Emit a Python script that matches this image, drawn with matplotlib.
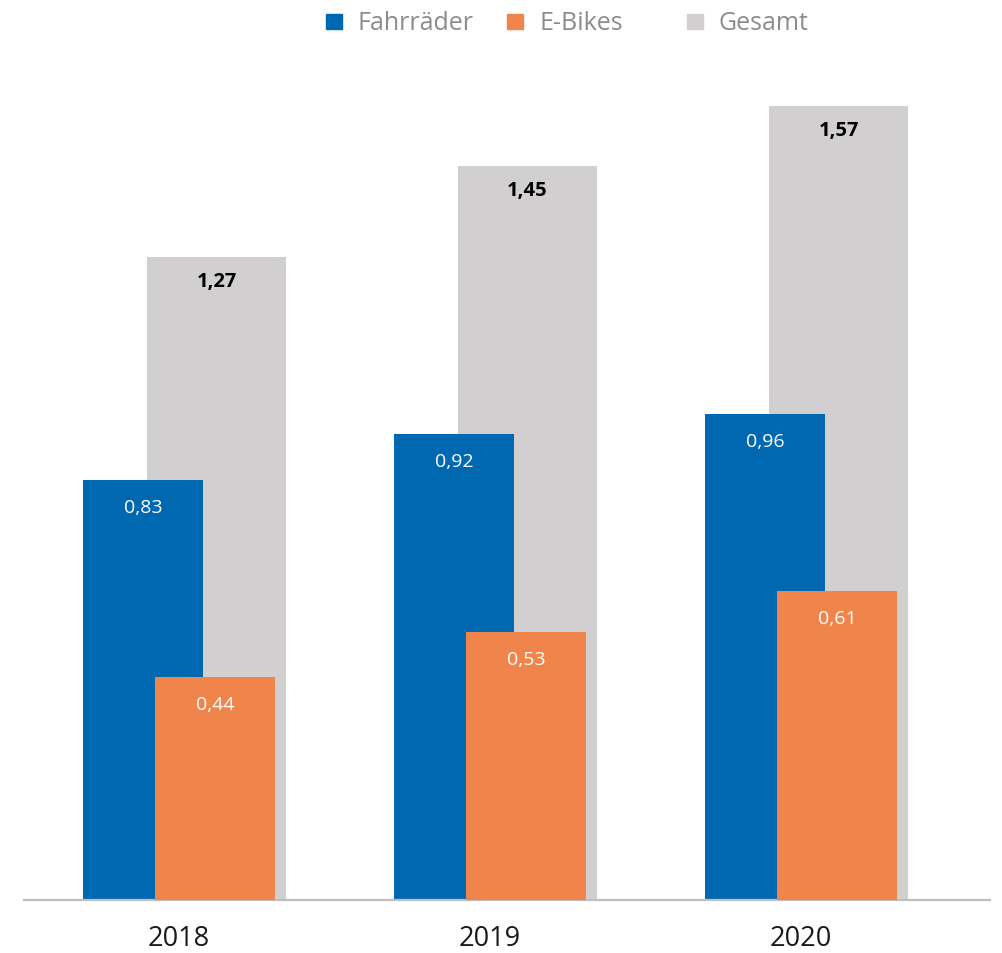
import matplotlib
matplotlib.use("Agg")
import matplotlib.pyplot as plt
from matplotlib.patches import Rectangle
import numpy as np

plt.rcParams['font.family'] = ['Open Sans', 'DejaVu Sans']

years = ["2018", "2019", "2020"]
fahrraeder = [0.83, 0.92, 0.96]
ebikes = [0.44, 0.53, 0.61]
gesamt = [1.27, 1.45, 1.57]
series_names = ["Fahrräder", "E-Bikes", "Gesamt"]

c_blue = "#0067b1"
c_orange = "#f0854b"
c_gray = "#d1cfd0"

W, H = 1002, 954
fig = plt.figure(figsize=(W / 100, H / 100), dpi=100)
ax = fig.add_axes([24 / W, (H - 901) / H, (990 - 24) / W, (901 - 40.8) / H])

x = np.arange(len(years))
unit = 311.0
off = 36 / unit
w_small = 120 / unit
w_gray = 139 / unit

ax.bar(x + off + 1.5 / unit, gesamt, width=w_gray, color=c_gray, zorder=1)
ax.bar(x - off, fahrraeder, width=w_small, color=c_blue, zorder=2)
ax.bar(x + off, ebikes, width=w_small, color=c_orange, zorder=3)

def fmt(v):
    return f"{v:.2f}".replace(".", ",")

for xi, v in zip(x, gesamt):
    ax.annotate(fmt(v), (xi + off + 1.5 / unit, v), xytext=(0, -24 * 0.72),
                textcoords="offset points", ha="center", va="center",
                fontsize=14.5, fontweight="bold", color="black", zorder=5)
for xi, v in zip(x, fahrraeder):
    ax.annotate(fmt(v), (xi - off, v), xytext=(0, -27 * 0.72),
                textcoords="offset points", ha="center", va="center",
                fontsize=14, color="white", zorder=5)
for xi, v in zip(x, ebikes):
    ax.annotate(fmt(v), (xi + off, v), xytext=(0, -27 * 0.72),
                textcoords="offset points", ha="center", va="center",
                fontsize=14, color="white", zorder=5)

ax.set_xlim(-(179 - 24) / unit, (990 - 179) / unit)
ax.set_ylim(0, 1.7)
ax.set_xticks(x)
ax.set_xticklabels(years, fontsize=19.5, color="#1a1a1a")
ax.tick_params(axis="x", length=0, pad=17)
ax.set_yticks([])
for s in ["top", "right", "left"]:
    ax.spines[s].set_visible(False)
ax.spines["bottom"].set_color("#bfbfbf")
ax.spines["bottom"].set_linewidth(1.6)

# legend
leg_items = [(326, 358, c_blue), (507, 539, c_orange), (687, 719, c_gray)]
for (sx, tx, col), name in zip(leg_items, series_names):
    fig.patches.append(Rectangle((sx / W, (H - 30) / H), 16 / W, 15 / H,
                                 transform=fig.transFigure, color=col))
    fig.text(tx / W, (H - 23.5) / H, name, ha="left", va="center",
             fontsize=18, color="#8c8c8c")

fig.savefig("out.png", dpi=100)
